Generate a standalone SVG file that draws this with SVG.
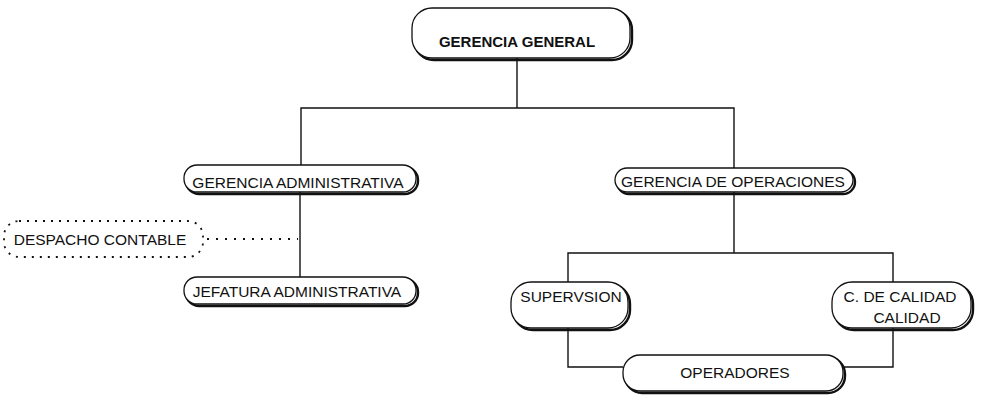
<svg xmlns="http://www.w3.org/2000/svg" width="981" height="395" viewBox="0 0 981 395">
<style>
.sh{fill:none;stroke:#111;stroke-width:2.4}
.bx{fill:#fff;stroke:#111;stroke-width:1.3}
.dbx{fill:#fff;stroke:#111;stroke-width:1.8;stroke-dasharray:2 6}
.t{font-family:"Liberation Sans",Arial,sans-serif;font-size:15.5px;fill:#111;text-anchor:middle}
.tb{font-weight:bold;font-size:15px}
.ln{fill:none;stroke:#111;stroke-width:1.4}
.dl{fill:none;stroke:#111;stroke-width:1.8;stroke-dasharray:2 7}
</style>
<rect width="981" height="395" fill="#fff"/>
<g id="connectors">
<polyline class="ln" points="517,58 517,108"/>
<polyline class="ln" points="301,165 301,108 734,108 734,168"/>
<polyline class="ln" points="300,192 300,277"/>
<polyline class="dl" points="207,239 298,239"/>
<polyline class="ln" points="734,192 734,253"/>
<polyline class="ln" points="568,282 568,253 893,253 893,282"/>
<polyline class="ln" points="568,328 568,367 623,367"/>
<polyline class="ln" points="893,328 893,367 843,367"/>
</g>
<g id="gerencia-general">
<rect class="sh" x="414" y="10" width="218" height="50" rx="20"/>
<rect class="bx" x="412" y="8" width="218" height="50" rx="20"/>
<text class="t tb" x="517" y="47">GERENCIA GENERAL</text>
</g>
<g id="gerencia-administrativa">
<rect class="sh" x="186" y="167" width="232" height="27" rx="13"/>
<rect class="bx" x="184" y="165" width="232" height="27" rx="13"/>
<text class="t" x="298" y="188">GERENCIA ADMINISTRATIVA</text>
</g>
<g id="despacho-contable">
<rect class="dbx" x="4" y="221" width="199" height="36" rx="15"/>
<text class="t" x="100" y="245">DESPACHO CONTABLE</text>
</g>
<g id="jefatura-administrativa">
<rect class="sh" x="186" y="279" width="232" height="27" rx="13"/>
<rect class="bx" x="184" y="277" width="232" height="27" rx="13"/>
<text class="t" x="297" y="297">JEFATURA ADMINISTRATIVA</text>
</g>
<g id="gerencia-operaciones">
<rect class="sh" x="617" y="170" width="238" height="24" rx="12"/>
<rect class="bx" x="615" y="168" width="238" height="24" rx="12"/>
<text class="t" x="733" y="187">GERENCIA DE OPERACIONES</text>
</g>
<g id="supervision">
<rect class="sh" x="513" y="284" width="117" height="46" rx="20"/>
<rect class="bx" x="511" y="282" width="117" height="46" rx="20"/>
<text class="t" x="571" y="302">SUPERVSION</text>
</g>
<g id="control-calidad">
<rect class="sh" x="834" y="284" width="139" height="46" rx="20"/>
<rect class="bx" x="832" y="282" width="139" height="46" rx="20"/>
<text class="t" x="900" y="302">C. DE CALIDAD</text>
<text class="t" x="907" y="323">CALIDAD</text>
</g>
<g id="operadores">
<rect class="sh" x="625" y="357" width="220" height="36" rx="17"/>
<rect class="bx" x="623" y="355" width="220" height="36" rx="17"/>
<text class="t" x="735" y="378">OPERADORES</text>
</g>
</svg>
